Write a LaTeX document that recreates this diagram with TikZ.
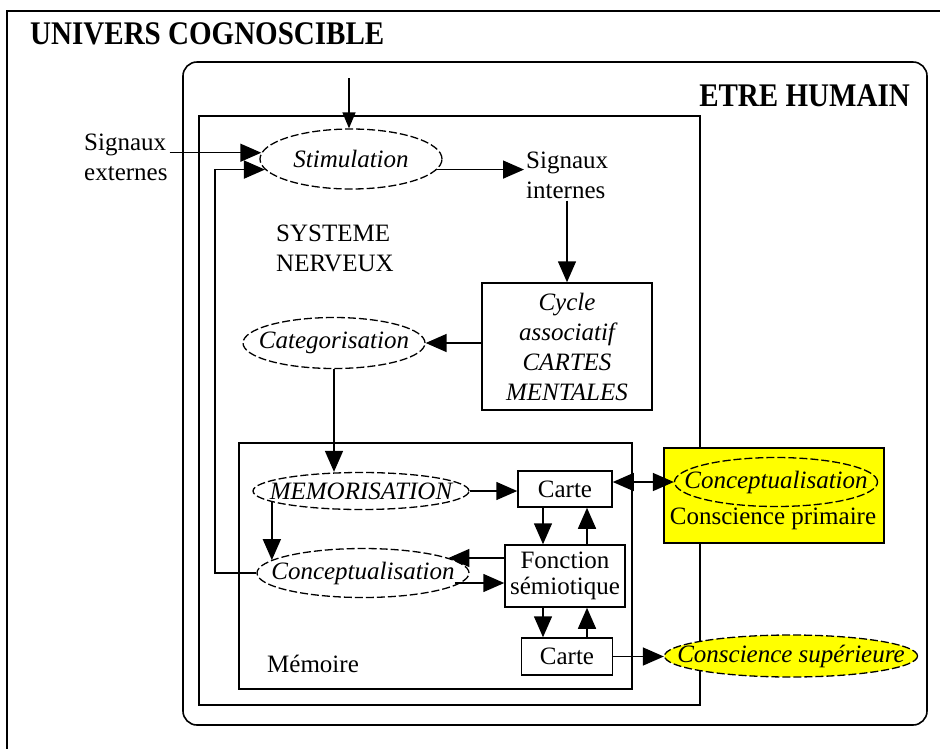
\documentclass[tikz,border=0pt]{standalone}
\usepackage{fontspec}
\setmainfont{Liberation Serif}
\newfontfamily\uctitlefont[FakeStretch=0.88]{Liberation Serif}
\usepackage{tikz}
\usetikzlibrary{
  arrows.meta,
  shapes.geometric,
  positioning,
  calc
}
\definecolor{ucLine}{HTML}{000000}
\definecolor{ucYellow}{HTML}{FFFF00}
\newcommand{\ovaltext}[1]{\makebox[0pt]{#1}}
\tikzset{
  ucnode/.style={font=\fontsize{25}{30}\selectfont, align=center, inner sep=2pt},
  uclabel/.style={ucnode, align=left},
  ucbox/.style={ucnode, draw=ucLine, line width=1.5pt, fill=white},
  ucoval/.style={ucnode, draw=ucLine, ellipse, inner sep=0pt, line width=1.3pt,
    dash pattern=on 8pt off 3pt, fill=white},
  uczone/.style={draw=ucLine, line width=1.6pt, inner sep=0pt},
  uctitle/.style={font=\uctitlefont\fontsize{33}{36}\selectfont\bfseries, inner sep=0pt},
  ucframe/.style={draw=ucLine, line width=1.8pt},
  arr/.style={-{Triangle[length=21pt,width=18pt]}, line width=1.5pt},
  arrsmall/.style={-{Triangle[length=16pt,width=13pt]}, line width=1.5pt},
  dblarr/.style={{Triangle[length=21pt,width=18pt]}-{Triangle[length=21pt,width=18pt]}, line width=1.5pt}
}
\begin{document}
\begin{tikzpicture}[x=1pt,y=-1pt]
  \useasboundingbox[fill=white] (0,0) rectangle (940,748);
  \draw[ucframe] (7,760) -- (7,11) -- (950,11);
  \node[uctitle, anchor=west] (univ) at (30,34) {UNIVERS COGNOSCIBLE};

  \node[uczone, rounded corners=14pt, minimum width=744pt, minimum height=663pt] (etre) at (555,393.5) {};
  \node[uctitle, anchor=east] (etrel) at (910,96) {ETRE HUMAIN};
  \node[uczone, minimum width=501pt, minimum height=589pt] (sys) at (449.5,410.5) {};
  \node[uczone, minimum width=393pt, minimum height=246pt] (mem) at (435.5,566) {};

  \node[ucoval, minimum width=182pt, minimum height=60pt] (stim) at (351,159) {\ovaltext{\itshape Stimulation}};
  \node[uclabel, anchor=west] (ext) at (82,157) {Signaux\\externes};
  \node[uclabel, anchor=west] (intl) at (524,175) {Signaux\\internes};
  \node[uclabel, anchor=west] (sysl) at (274,248) {SYSTEME\\NERVEUX};
  \node[ucbox, minimum width=170pt, minimum height=127pt, font=\fontsize{25}{30}\selectfont\itshape] (cyc) at (567,346.5) {Cycle\\associatif\\CARTES\\MENTALES};
  \node[ucoval, minimum width=182pt, minimum height=51pt] (cat) at (334,343) {\ovaltext{\itshape Categorisation}};

  \node[ucoval, minimum width=216pt, minimum height=37pt] (memo) at (361,491) {\ovaltext{\itshape MEMORISATION}};
  \node[ucbox, minimum width=94pt, minimum height=36pt] (carte1) at (565,489) {Carte};
  \node[ucbox, minimum width=120pt, minimum height=62pt, font=\fontsize{25}{26}\selectfont] (fonc) at (565,576) {Fonction\\sémiotique};
  \node[ucoval, minimum width=212pt, minimum height=49pt] (conc) at (363,573) {\ovaltext{\itshape Conceptualisation}};
  \node[ucbox, minimum width=91pt, minimum height=37pt] (carte2) at (567,656.5) {Carte};
  \node[uclabel, anchor=west] (meml) at (265,664) {Mémoire};

  \node[ucbox, fill=ucYellow, minimum width=220pt, minimum height=95pt] (prim) at (774,495.5) {};
  \node[ucoval, fill=ucYellow, minimum width=203pt, minimum height=49pt] (cp) at (776,482) {\ovaltext{\itshape Conceptualisation}};
  \node[ucnode] (priml) at (773,519) {Conscience primaire};
  \node[ucoval, fill=ucYellow, minimum width=253pt, minimum height=42pt] (consup) at (791,656) {\ovaltext{\itshape Conscience supérieure}};

  \coordinate (topin) at (349,78);
  \coordinate (fbx) at (215,0);
  \coordinate (fa) at ([yshift=18pt]fonc.west);
  \coordinate (fb) at ([yshift=-7pt]fonc.west);
  \coordinate (fdn) at ([xshift=-22pt]fonc.center);
  \coordinate (fup) at ([xshift=22pt]fonc.center);

  \draw[arrsmall] (topin) -- (topin |- stim.north);
  \draw[arr] (ext.east |- stim.176) -- (stim.176);
  \draw[arr] (conc.west) -- (conc.west -| fbx) |- (stim.187);
  \draw[arr] (stim.-7) -- (stim.-7 -| intl.west);
  \draw[arr] (cyc.north |- intl.south) -- (cyc.north);
  \draw[arr] (cyc.west |- cat.east) -- (cat.east);
  \draw[arr] (cat.south) -- (cat.south |- memo.north);
  \draw[arr] (memo.east) -- (memo.east -| carte1.west);
  \draw[arr] (memo.187) -- (memo.187 |- conc.172);
  \draw[arr] (fa) -- (fa -| conc.10);
  \draw[arr] (fb -| conc.-8) -- (fb);
  \draw[arr] (fdn |- carte1.south) -- (fdn |- fonc.north);
  \draw[arr] (fup |- fonc.north) -- (fup |- carte1.south);
  \draw[arr] (fdn |- fonc.south) -- (fdn |- carte2.north);
  \draw[arr] (fup |- carte2.north) -- (fup |- fonc.south);
  \draw[arr] (carte2.east) -- (carte2.east -| consup.west);
  \draw[dblarr] (carte1.east |- cp.west) -- (cp.west);
\end{tikzpicture}
\end{document}
